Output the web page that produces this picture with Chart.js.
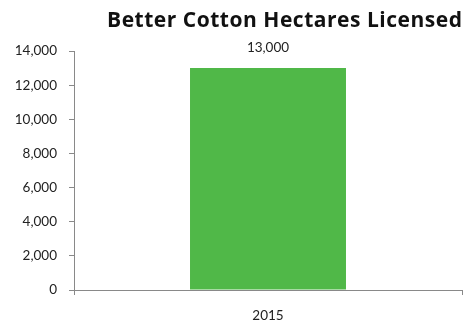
<!DOCTYPE html>
<html>
<head>
<meta charset="utf-8">
<script src="https://cdn.jsdelivr.net/npm/chart.js@4/dist/chart.umd.min.js"></script>
<style>
html,body{margin:0;padding:0;background:#fff;}
#wrap{width:469px;height:326px;position:relative;}
</style>
</head>
<body>
<div id="wrap"><canvas id="c" width="469" height="326"></canvas></div>
<script>
const categories = ['2015'];
const hectares = [13000];
const yTicks = [0, 2000, 4000, 6000, 8000, 10000, 12000, 14000];
const titleText = 'Better Cotton Hectares Licensed';

const FONT = 'Lato, "Open Sans", sans-serif';
const fmt = v => v.toLocaleString('en-US');

const extras = {
  id: 'extras',
  afterDatasetsDraw(chart) {
    const ctx = chart.ctx;
    const meta = chart.getDatasetMeta(0);
    ctx.save();
    ctx.font = '13.5px ' + FONT;
    ctx.fillStyle = '#222';
    ctx.textAlign = 'center';
    ctx.textBaseline = 'middle';
    meta.data.forEach((bar, i) => {
      ctx.fillText(fmt(hectares[i]), bar.x, bar.y - 20);
    });
    // title
    ctx.font = 'bold 21px "Open Sans", sans-serif';
    ctx.fillStyle = '#111';
    const target = 355;
    const w = ctx.measureText(titleText).width;
    const ls = (target - w) / (titleText.length - 1);
    if ('letterSpacing' in ctx) ctx.letterSpacing = ls.toFixed(2) + 'px';
    ctx.textAlign = 'left';
    ctx.textBaseline = 'alphabetic';
    ctx.fillText(titleText, chart.chartArea.right - target, 27);
    ctx.restore();
  }
};

new Chart(document.getElementById('c'), {
  type: 'bar',
  data: {
    labels: categories,
    datasets: [{
      data: hectares,
      backgroundColor: '#50B848',
      borderWidth: 0,
      barPercentage: 1,
      categoryPercentage: 0.402
    }]
  },
  options: {
    responsive: false,
    animation: false,
    devicePixelRatio: 1,
    layout: { padding: { left: 0, right: 7, top: 51, bottom: 0 } },
    plugins: {
      legend: { display: false },
      tooltip: { enabled: false },
      title: { display: false }
    },
    scales: {
      x: {
        offset: true,
        afterFit: s => { s.height = 36; },
        grid: { offset: true, drawOnChartArea: false, tickLength: 5, color: '#898989' },
        border: { color: '#898989' },
        ticks: { color: '#222', font: { family: FONT, size: 13.5 }, padding: 13 }
      },
      y: {
        min: 0,
        max: 14000,
        afterFit: s => { s.width = 74; },
        afterBuildTicks: s => { s.ticks = yTicks.map(v => ({ value: v })); },
        grid: { drawOnChartArea: false, tickLength: 5, color: '#898989' },
        border: { color: '#898989' },
        ticks: { color: '#222', font: { family: FONT, size: 13.5 }, padding: 12, callback: v => fmt(v) }
      }
    }
  },
  plugins: [extras]
});
</script>
</body>
</html>
